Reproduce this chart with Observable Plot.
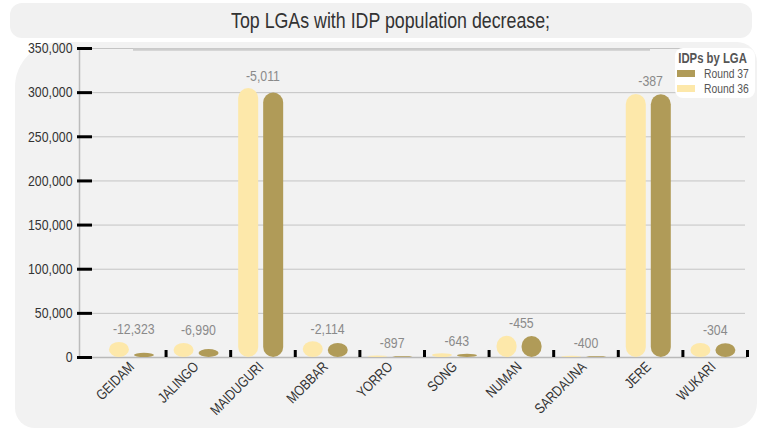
<!DOCTYPE html>
<html>
<head>
<meta charset="utf-8">
<script src="https://cdn.jsdelivr.net/npm/d3@7"></script>
<script src="https://cdn.jsdelivr.net/npm/@observablehq/plot@0.6"></script>
<style>
  html, body { margin: 0; padding: 0; background: #ffffff; }
  #wrap { position: relative; width: 758px; height: 428px; overflow: hidden;
          font-family: "Liberation Sans", Arial, sans-serif; }
  #title { position: absolute; left: 10px; top: 3px; width: 742px; height: 35px; background: #f1f1f1;
           border-radius: 12px; text-align: center; line-height: 35px; font-size: 21.7px; color: #333; }
  #title span { display: inline-block; transform: scaleX(0.82); transform-origin: center; padding-left: 22px; }
  #panel { position: absolute; left: 15px; top: 42px; width: 742px; height: 386px; background: #f2f2f2;
           border-radius: 45px 20px 25px 20px; }
  #chart { position: absolute; left: 0; top: 0; }
  #legend { position: absolute; left: 675px; top: 48px; width: 80px; height: 50px; background: #fff;
            border-radius: 8px; font-size: 12.6px; color: #555; }
  #legend .t { font-weight: bold; font-size: 13.8px; padding: 3px 0 0 4px; line-height: 15px; color: #555;
               transform: scaleX(0.82); transform-origin: left; white-space: nowrap; }
  #legend .i { display: flex; align-items: center; height: 15px; padding-left: 2px; white-space: nowrap; }
  #legend .s { width: 18px; height: 7px; margin-right: 9px; flex: none; }
  #legend .n { display: inline-block; transform: scaleX(0.82); transform-origin: left; }
</style>
</head>
<body>
<div id="wrap">
  <div id="title"><span>Top LGAs with IDP population decrease;</span></div>
  <div id="panel"></div>
  <div id="chart"></div>
  <div id="legend"></div>
</div>
<script>
const lgas = ["GEIDAM","JALINGO","MAIDUGURI","MOBBAR","YORRO","SONG","NUMAN","SARDAUNA","JERE","WUKARI"];
const round36 = [17100, 15990, 304600, 17900, 1800, 4300, 24100, 1300, 297900, 15900];
const round37 = [4777, 9000, 299589, 15786, 903, 3657, 23645, 900, 297513, 15596];
const change = [-12323, -6990, -5011, -2114, -897, -643, -455, -400, -387, -304];
const yTicks = [0, 50000, 100000, 150000, 200000, 250000, 300000, 350000];
const seriesNames = ["Round 37", "Round 36"];
const colors = {"Round 36": "#fde8aa", "Round 37": "#b09b58"};

const rows = lgas.map((lga, i) => ({lga, r36: round36[i], r37: round37[i], change: change[i], top: Math.max(round36[i], round37[i])}));

const W = 758, H = 428, ML = 79, MR = 11, MT = 48, MB = 71;
const padOuter = 0.17;
const step = (W - ML - MR) / (lgas.length + 2 * padOuter);
const fmtSigned = d => (d < 0 ? "-" : "") + d3.format(",")(Math.abs(d));

const chart = Plot.plot({
  width: W, height: H,
  marginTop: MT, marginBottom: MB, marginLeft: ML, marginRight: MR,
  style: {background: "transparent", fontFamily: '"Liberation Sans", Arial, sans-serif', overflow: "visible"},
  x: {type: "band", domain: lgas, paddingInner: 0, paddingOuter: padOuter, align: 1, round: false, axis: null},
  y: {domain: [0, 350000], axis: null},
  marks: [
    Plot.ruleY(yTicks.filter(d => d > 0), {stroke: "#c4c4c4", strokeWidth: 1, insetLeft: 13, insetRight: 2}),
    Plot.ruleY([350000], {stroke: "#cdcdcd", strokeWidth: 2.5, dy: 1, insetLeft: 54, insetRight: 97}),
    Plot.frame({anchor: "left", stroke: "#bcbcbc", strokeWidth: 1.5}),
    Plot.ruleY([0], {stroke: "#b9b9b9", strokeWidth: 1.5}),
    Plot.barY(rows, {x: "lga", y: "r36", fill: colors["Round 36"], insetLeft: 8, insetRight: step - 28, rx: 10}),
    Plot.barY(rows, {x: "lga", y: "r37", fill: colors["Round 37"], insetLeft: 33, insetRight: step - 53, rx: 10}),
    Plot.text(rows, {x: "lga", y: "top", text: d => fmtSigned(d.change), lineAnchor: "bottom", dy: -8, fontSize: 15, fill: "#8a8a8a"}),
    Plot.axisY({ticks: yTicks, tickSize: 15, dx: 13, tickFormat: () => "", stroke: "#000", strokeWidth: 3, label: null}),
    Plot.axisY({ticks: yTicks, tickSize: 0, tickPadding: 7, tickFormat: d3.format(","), fontSize: 15, fill: "#333", label: null}),
    Plot.axisX({tickSize: 7, dy: -7, dx: step / 2, tickFormat: () => "", stroke: "#000", strokeWidth: 3, label: null}),
    Plot.axisX({tickSize: 0, tickPadding: 6, tickRotate: -45, dx: -2, dy: 1, fontSize: 14.5, fill: "#333", label: null})
  ]
});
document.getElementById("chart").appendChild(chart);

// condensed look: compress glyphs horizontally (like a narrow face)
chart.querySelectorAll("text").forEach(t => {
  if (!t.textContent) return;
  const len = t.getComputedTextLength();
  if (len > 0) {
    t.setAttribute("textLength", (len * 0.82).toFixed(2));
    t.setAttribute("lengthAdjust", "spacingAndGlyphs");
  }
});

const legend = document.getElementById("legend");
legend.innerHTML = '<div class="t">IDPs by LGA</div>' + seriesNames.map(n =>
  `<div class="i"><span class="s" style="background:${colors[n]}"></span><span class="n">${n}</span></div>`).join("");
</script>
</body>
</html>
